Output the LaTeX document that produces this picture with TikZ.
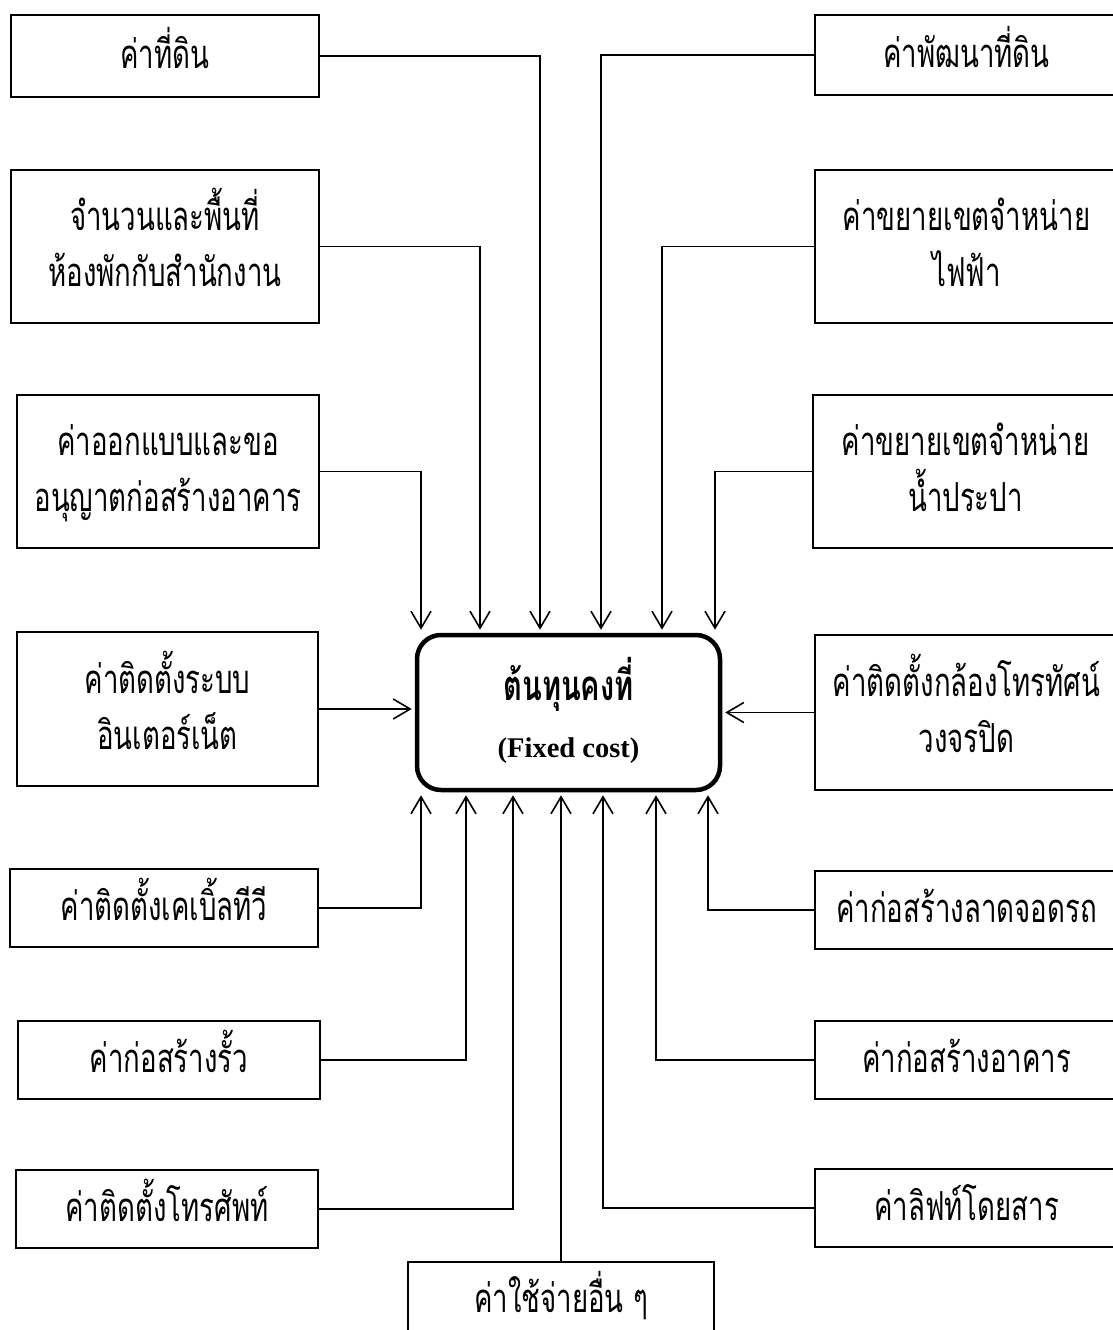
\documentclass[tikz,border=0pt]{standalone}
\usepackage{fontspec}
\setmainfont{Liberation Serif}
\newfontfamily\thai[Script=Thai,FakeStretch=0.69]{Loma}
\newcommand\thline[1]{\raisebox{0pt}[30pt][6pt]{#1}}
\usetikzlibrary{arrows.meta,calc}
\begin{document}
\begin{tikzpicture}[x=1pt,y=-1pt,
  box/.style={draw,line width=2.4pt,rectangle,inner sep=0pt,align=center,
    font=\thai\fontsize{40}{56}\selectfont},
  core/.style={draw,line width=4.5pt,rectangle,rounded corners=24pt,inner sep=0pt,align=center,
    font=\fontsize{28}{57}\selectfont},
  conn/.style={line width=1.6pt},
  arr/.style={conn,-{Straight Barb[length=17pt,width=20pt]},shorten >=3pt}]
\useasboundingbox (0,0) rectangle (1113,1330);
\clip (0,0) rectangle (1113,1330);
% centre
\node[core,minimum width=303pt,minimum height=155pt] (C) at (568.5,712.5)
  {\raisebox{0pt}[36pt][0pt]{\thai\bfseries\fontsize{42}{50}\selectfont ต้นทุนคงที่}\\
   \raisebox{0pt}[20pt][4pt]{\bfseries\fontsize{28.5}{30}\selectfont (Fixed cost)}};
% left column
\node[box,minimum width=308pt,minimum height=82pt]  (L1) at (165,56)   {\thline{ค่าที่ดิน}};
\node[box,minimum width=308pt,minimum height=153pt] (L2) at (165,246.5) {\thline{จำนวนและพื้นที่}\\\thline{ห้องพักกับสำนักงาน}};
\node[box,minimum width=302pt,minimum height=153pt] (L3) at (168,471.5) {\thline{ค่าออกแบบและขอ}\\\thline{อนุญาตก่อสร้างอาคาร}};
\node[box,minimum width=301pt,minimum height=154pt] (L4) at (167.5,709) {\thline{ค่าติดตั้งระบบ}\\\thline{อินเตอร์เน็ต}};
\node[box,minimum width=308pt,minimum height=78pt]  (L5) at (164,908)  {\thline{ค่าติดตั้งเคเบิ้ลทีวี}};
\node[box,minimum width=302pt,minimum height=78pt]  (L6) at (169,1060) {\thline{ค่าก่อสร้างรั้ว}};
\node[box,minimum width=302pt,minimum height=78pt]  (L7) at (167,1209) {\thline{ค่าติดตั้งโทรศัพท์}};
\node[box,minimum width=306pt,minimum height=76pt]  (B)  at (561,1300) {\thline{ค่าใช้จ่ายอื่น ๆ}};
% right column
\node[box,minimum width=303pt,minimum height=80pt]  (R1) at (966.5,55)   {\thline{ค่าพัฒนาที่ดิน}};
\node[box,minimum width=303pt,minimum height=153pt] (R2) at (966.5,246.5) {\thline{ค่าขยายเขตจำหน่าย}\\\thline{ไฟฟ้า}};
\node[box,minimum width=305pt,minimum height=153pt] (R3) at (965.5,471.5) {\thline{ค่าขยายเขตจำหน่าย}\\\thline{น้ำประปา}};
\node[box,minimum width=303pt,minimum height=155pt] (R4) at (966.5,712.5) {\thline{ค่าติดตั้งกล้องโทรทัศน์}\\\thline{วงจรปิด}};
\node[box,minimum width=303pt,minimum height=78pt]  (R5) at (966.5,910)  {\thline{ค่าก่อสร้างลาดจอดรถ}};
\node[box,minimum width=303pt,minimum height=78pt]  (R6) at (966.5,1060) {\thline{ค่าก่อสร้างอาคาร}};
\node[box,minimum width=303pt,minimum height=78pt]  (R7) at (966.5,1208) {\thline{ค่าลิฟท์โดยสาร}};
% connectors to top
\draw[arr] (L1.east) -| ([xshift=-28.5pt]C.north);
\draw[arr] (L2.east) -| ([xshift=-88.5pt]C.north);
\draw[arr] (L3.east) -| ([xshift=-147.5pt]C.north);
\draw[arr] (R1.west) -| ([xshift=32.5pt]C.north);
\draw[arr] (R2.west) -| ([xshift=93.5pt]C.north);
\draw[arr] (R3.west) -| ([xshift=146.5pt]C.north);
% side
\draw[arr] (L4.east) -- (L4.east -| C.west);
\draw[arr] (R4.west) -- (R4.west -| C.east);
% connectors to bottom
\draw[arr] (L5.east) -| ([xshift=-147.5pt]C.south);
\draw[arr] (L6.east) -| ([xshift=-102.5pt]C.south);
\draw[arr] (L7.east) -| ([xshift=-55.5pt]C.south);
\draw[arr] (B.north) -- (B.north |- C.south);
\draw[arr] (R7.west) -| ([xshift=34.5pt]C.south);
\draw[arr] (R6.west) -| ([xshift=87.5pt]C.south);
\draw[arr] (R5.west) -| ([xshift=139.5pt]C.south);
\end{tikzpicture}
\end{document}
